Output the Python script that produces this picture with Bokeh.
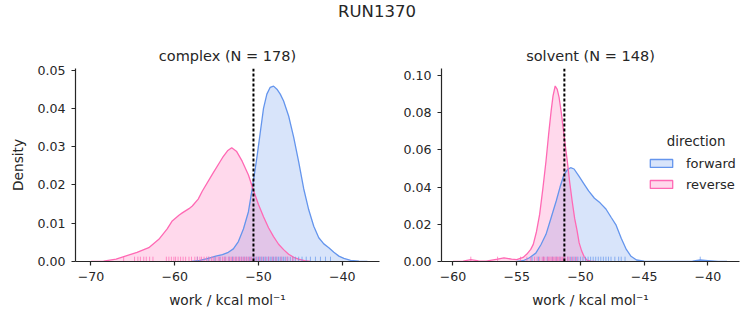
from bokeh.plotting import figure
from bokeh.models import Range1d, FixedTicker, Span, Label, Legend, LegendItem
from bokeh.layouts import column, row
from bokeh.embed import file_html
from bokeh.resources import INLINE

FONT = "DejaVu Sans"
INK = "#262626"
FWD = "#6495ED"
REV = "#FF69B4"

suptitle = "RUN1370"
panel_titles = ["complex (N = 178)", "solvent (N = 148)"]
xlabel = "work / kcal mol\u207b\u00b9"
ylabel = "Density"
legend_title = "direction"
directions = ["forward", "reverse"]

# ---- complex panel: KDE curves ----
complex_fwd_x = [-58.0, -57.0, -56.0, -55.1, -54.3, -53.6, -53.0, -52.4, -51.8, -51.2,
                 -50.75, -50.2, -49.8, -49.4, -49.0, -48.6, -48.2, -47.8, -47.4, -47.0,
                 -46.4, -45.8, -45.2, -44.6, -44.0, -43.4, -42.8, -42.2, -41.6, -41.0,
                 -40.4, -39.8, -39.0, -38.0, -37.0]
complex_fwd_y = [0.0, 0.0003, 0.0008, 0.0014, 0.0018, 0.0024, 0.0033, 0.0052, 0.0085, 0.013,
                 0.019, 0.027, 0.0335, 0.040, 0.0437, 0.0455, 0.0458, 0.0450, 0.0437, 0.0419,
                 0.038, 0.0325, 0.026, 0.019, 0.0135, 0.0092, 0.0062, 0.0046, 0.0036, 0.0024,
                 0.0014, 0.0008, 0.0003, 0.0001, 0.0]
complex_rev_x = [-70.0, -68.5, -67.0, -65.9, -64.5, -63.1, -61.9, -60.9, -60.3, -59.5,
                 -59.1, -58.3, -57.9, -57.2, -56.7, -55.5, -54.3, -53.7, -53.2, -52.6,
                 -51.95, -51.2, -50.6, -50.0, -49.4, -48.8, -48.2, -47.6, -47.0, -46.4,
                 -45.8, -45.2, -44.5, -43.8]
complex_rev_y = [0.0, 0.0001, 0.0006, 0.0014, 0.0024, 0.0036, 0.0058, 0.0085, 0.0106, 0.0121,
                 0.0127, 0.0138, 0.0145, 0.0163, 0.0184, 0.0228, 0.0271, 0.0289, 0.0297, 0.0287,
                 0.0262, 0.0226, 0.0186, 0.0149, 0.0117, 0.0088, 0.0065, 0.0045, 0.0031, 0.0019,
                 0.0011, 0.0006, 0.0002, 0.0]
complex_fwd_rug = [-57.3, -56.0, -55.2, -54.6, -54.0, -53.5, -53.1, -52.7, -52.3, -52.0,
                   -51.7, -51.4, -51.1, -50.9, -50.6, -50.4, -50.2, -50.0, -49.8, -49.6,
                   -49.4, -49.2, -49.0, -48.8, -48.6, -48.4, -48.2, -48.0, -47.8, -47.6,
                   -47.4, -47.2, -47.0, -46.8, -46.5, -46.2, -45.9, -45.6, -45.2, -44.8,
                   -44.3, -43.8, -43.2, -42.6, -42.0, -41.4]
complex_rev_rug = [-66.1, -64.8, -64.4, -64.1, -63.7, -63.4, -63.0, -62.6, -61.0, -60.7,
                   -60.4, -60.1, -59.9, -59.6, -59.3, -59.0, -58.7, -58.3, -58.0, -57.6,
                   -57.3, -57.0, -56.8, -56.5, -56.2, -55.9, -55.6, -55.4, -55.1, -54.8,
                   -54.6, -54.3, -54.1, -53.9, -53.6, -53.4, -53.2, -53.0, -52.8, -52.6,
                   -52.4, -52.2, -52.0, -51.8, -51.6, -51.4, -51.2, -51.0, -50.8, -50.5,
                   -50.2, -49.9, -49.6, -49.2, -48.8, -48.3, -47.9, -47.3, -46.6, -45.9]
complex_estimate = -50.6
complex_xticks = [-70, -60, -50, -40]
complex_xlabels = ["\u221270", "\u221260", "\u221250", "\u221240"]
complex_yticks = [0.0, 0.01, 0.02, 0.03, 0.04, 0.05]
complex_ylabels = ["0.00", "0.01", "0.02", "0.03", "0.04", "0.05"]

# ---- solvent panel ----
solvent_fwd_x = [-55.0, -54.5, -54.0, -53.5, -53.1, -52.7, -52.3, -51.9, -51.6, -51.3,
                 -51.0, -50.77, -50.5, -50.13, -49.75, -49.36, -48.9, -48.46, -48.0, -47.57,
                 -47.2, -46.8, -46.4, -46.03, -45.6, -45.0, -44.0, -42.0, -41.2, -40.6,
                 -40.0, -39.2, -38.5]
solvent_fwd_y = [0.0, 0.0004, 0.002, 0.0045, 0.009, 0.0146, 0.0235, 0.0325, 0.040, 0.0465,
                 0.0495, 0.0504, 0.0497, 0.046, 0.042, 0.0379, 0.034, 0.0315, 0.0282, 0.0235,
                 0.0195, 0.0125, 0.0065, 0.0028, 0.0008, 0.0002, 0.0, 0.0, 0.0002, 0.0008,
                 0.0005, 0.0001, 0.0]
solvent_rev_x = [-60.0, -59.2, -58.6, -58.0, -57.4, -56.5, -56.0, -55.4, -55.0, -54.5,
                 -54.2, -53.9, -53.7, -53.45, -53.2, -52.95, -52.7, -52.5, -52.3, -52.15,
                 -51.98, -51.82, -51.67, -51.5, -51.36, -51.2, -51.03, -50.85, -50.65, -50.45,
                 -50.26, -50.1, -49.9, -49.7, -49.5, -49.2, -48.8]
solvent_rev_y = [0.0, 0.0002, 0.001, 0.0003, 0.0002, 0.0013, 0.002, 0.0013, 0.001, 0.0022,
                 0.004, 0.0065, 0.0092, 0.016, 0.0253, 0.039, 0.054, 0.068, 0.0808, 0.089,
                 0.0943, 0.0925, 0.088, 0.080, 0.0719, 0.063, 0.054, 0.043, 0.0325, 0.023,
                 0.0164, 0.010, 0.0056, 0.0025, 0.0008, 0.0002, 0.0]
solvent_fwd_rug = [-53.8, -53.3, -52.9, -52.6, -52.2, -51.9, -51.6, -51.3, -51.0, -50.8,
                   -50.6, -50.4, -50.2, -50.0, -49.8, -49.6, -49.4, -49.2, -49.0, -48.8,
                   -48.6, -48.4, -48.2, -48.0, -47.8, -47.6, -47.3, -47.0, -46.8, -46.5,
                   -40.6]
solvent_rev_rug = [-58.6, -56.5, -54.7, -54.2, -53.9, -53.6, -53.4, -53.2, -53.0, -52.9,
                   -52.8, -52.6, -52.5, -52.4, -52.3, -52.2, -52.1, -52.0, -51.9, -51.8,
                   -51.7, -51.6, -51.5, -51.4, -51.3, -51.2, -51.0, -50.9, -50.7, -50.5,
                   -50.3]
solvent_estimate = -51.26
solvent_xticks = [-60, -55, -50, -45, -40]
solvent_xlabels = ["\u221260", "\u221255", "\u221250", "\u221245", "\u221240"]
solvent_yticks = [0.0, 0.02, 0.04, 0.06, 0.08, 0.10]
solvent_ylabels = ["0.00", "0.02", "0.04", "0.06", "0.08", "0.10"]

RUG_FRAC = 0.025


def panel(title, xr, yr, fwd, rev, fwd_rug, rev_rug, est, xt, xl, yt, yl,
          width, left, right, show_ylabel):
    p = figure(width=width, height=295, output_backend="svg", toolbar_location=None,
               x_range=Range1d(*xr), y_range=Range1d(*yr),
               min_border_left=left, min_border_right=right,
               min_border_top=38, min_border_bottom=64)
    p.outline_line_color = None
    p.grid.visible = False
    p.background_fill_color = "white"
    p.border_fill_color = "white"
    p.title.text = title
    p.title.align = "center"
    p.title.text_font = FONT
    p.title.text_font_size = "14.5px"
    p.title.text_font_style = "normal"
    p.title.text_color = INK
    p.title.standoff = 10

    for (x, y), col in ((fwd, FWD), (rev, REV)):
        p.varea(x=x, y1=[0] * len(y), y2=y, fill_color=col, fill_alpha=0.25)
    for (x, y), col in ((fwd, FWD), (rev, REV)):
        p.line(x, y, line_color=col, line_width=1.3)
    h = RUG_FRAC * yr[1]
    for rug, col in ((fwd_rug, FWD), (rev_rug, REV)):
        p.segment(x0=rug, y0=[0] * len(rug), x1=rug, y1=[h] * len(rug),
                  line_color=col, line_alpha=0.7, line_width=1)
    p.add_layout(Span(location=est, dimension="height", line_color="black",
                      line_dash="3 2", line_width=2))

    for ax, ticks, labels in ((p.xaxis[0], xt, xl), (p.yaxis[0], yt, yl)):
        ax.ticker = FixedTicker(ticks=ticks)
        ax.major_label_overrides = {t: s for t, s in zip(ticks, labels)}
        ax.minor_tick_line_color = None
        ax.major_tick_in = 0
        ax.major_tick_out = 4
        ax.major_tick_line_color = INK
        ax.major_tick_line_width = 1.2
        ax.axis_line_color = INK
        ax.axis_line_width = 1.2
        ax.major_label_text_font = FONT
        ax.major_label_text_font_size = "12.6px"
        ax.major_label_text_color = INK
        ax.axis_label_text_font = FONT
        ax.axis_label_text_font_size = "13.7px"
        ax.axis_label_text_font_style = "normal"
        ax.axis_label_text_color = INK
    p.xaxis[0].axis_label = xlabel
    p.xaxis[0].major_label_standoff = 6
    p.xaxis[0].axis_label_standoff = 8
    p.yaxis[0].major_label_standoff = 6
    p.yaxis[0].axis_label_standoff = 8
    if show_ylabel:
        p.yaxis[0].axis_label = ylabel
    return p


f1 = panel(panel_titles[0], (-71.85, -35.55), (0.0, 0.0504),
           (complex_fwd_x, complex_fwd_y), (complex_rev_x, complex_rev_y),
           complex_fwd_rug, complex_rev_rug, complex_estimate,
           complex_xticks, complex_xlabels, complex_yticks, complex_ylabels,
           400, 75, 21, True)
f2 = panel(panel_titles[1], (-60.9, -37.52), (0.0, 0.1037),
           (solvent_fwd_x, solvent_fwd_y), (solvent_rev_x, solvent_rev_y),
           solvent_fwd_rug, solvent_rev_rug, solvent_estimate,
           solvent_xticks, solvent_xlabels, solvent_yticks, solvent_ylabels,
           353, 35, 14, False)

# legend: swatches from zero-size quads anchored on each curve's first point
items = []
for name, col, (cx, cy) in zip(directions, (FWD, REV),
                               ((solvent_fwd_x, solvent_fwd_y), (solvent_rev_x, solvent_rev_y))):
    r = f2.quad(left=[cx[0]], right=[cx[0]], bottom=[cy[0]], top=[cy[0]],
                fill_color=col, fill_alpha=0.25, line_color=col, line_width=1.3)
    items.append(LegendItem(label=name, renderers=[r]))
leg = Legend(items=items, location=(206, 67), padding=0, margin=0, spacing=1,
             glyph_width=28, glyph_height=10, label_height=20, label_standoff=11,
             label_text_font=FONT, label_text_font_size="13px", label_text_color=INK,
             border_line_alpha=0, background_fill_alpha=0)
f2.add_layout(leg)
f2.add_layout(Label(x=-40.92, y=0.0645, text=legend_title, text_align="center",
                    text_baseline="alphabetic", text_font=FONT, text_font_size="13.4px",
                    text_color=INK))

# suptitle strip
top = figure(width=753, height=30, output_backend="svg", toolbar_location=None,
             x_range=Range1d(0, 1), y_range=Range1d(0, 1),
             x_axis_type=None, y_axis_type=None,
             min_border_left=0, min_border_right=0, min_border_top=0, min_border_bottom=0)
top.outline_line_color = None
top.grid.visible = False
top.add_layout(Label(x=0.5, y=0.62, text=suptitle, text_align="center",
                     text_baseline="alphabetic", text_font=FONT, text_font_size="16.5px",
                     text_color=INK))

layout = column(top, row(f1, f2, spacing=0), spacing=0)
open("out.html", "w").write(file_html(layout, INLINE))
